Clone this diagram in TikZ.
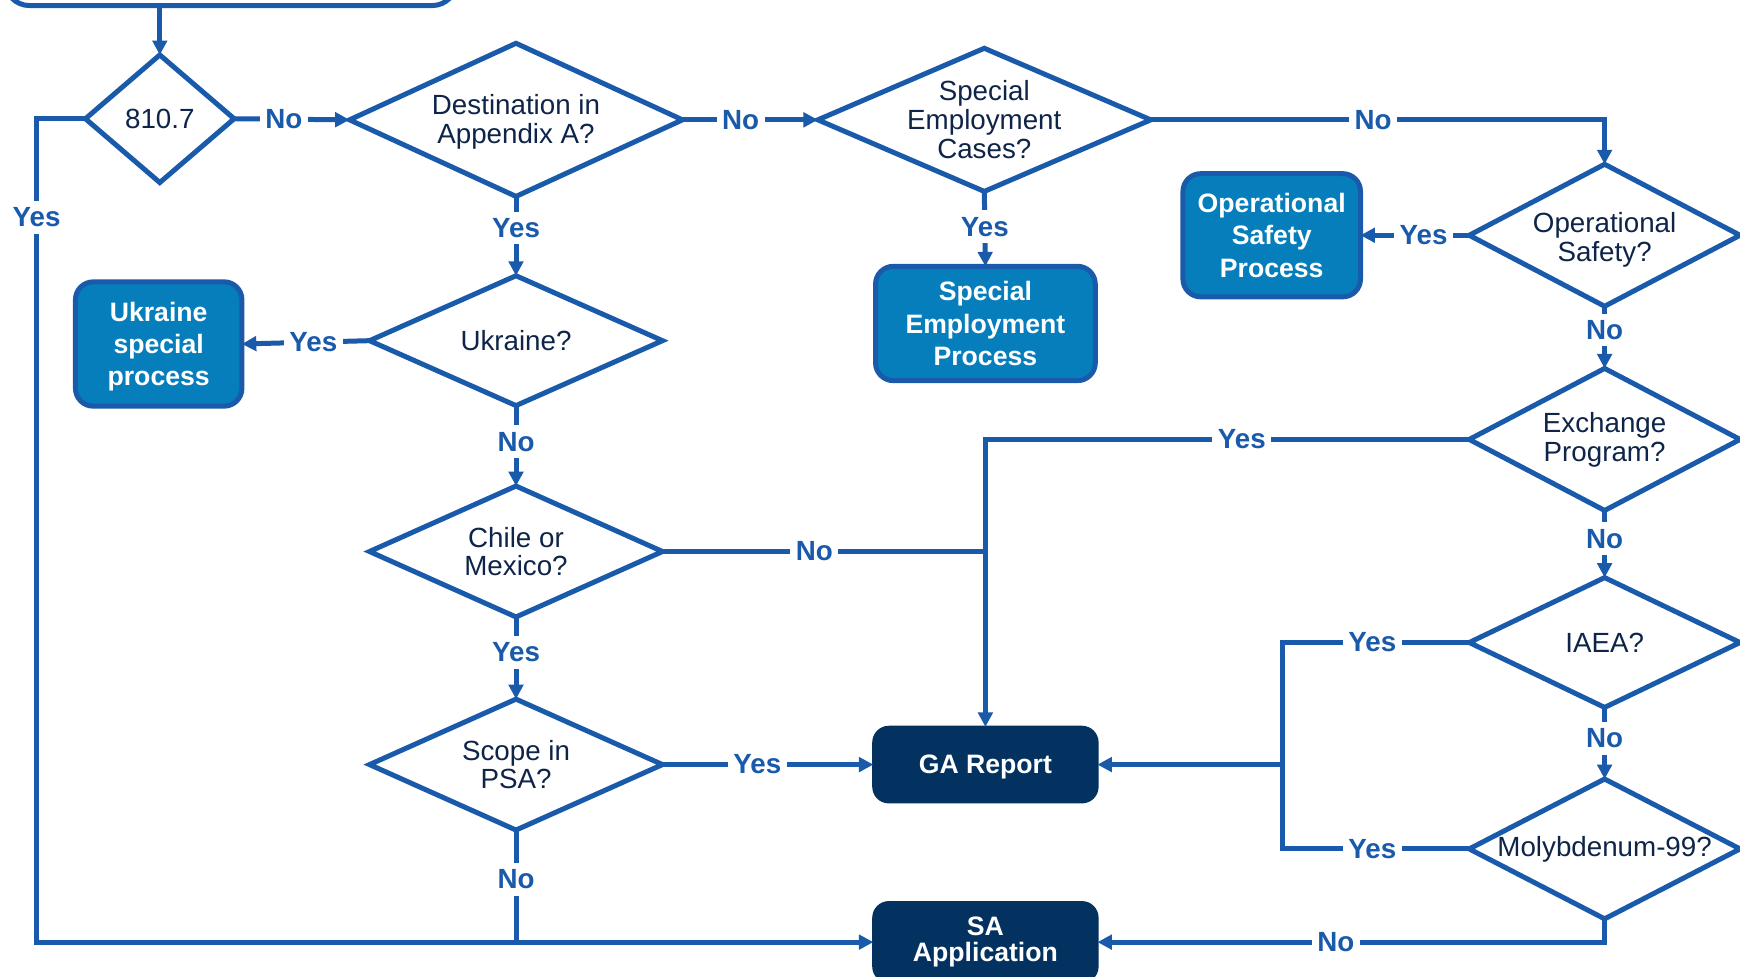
\documentclass[tikz,border=0pt]{standalone}
\usepackage{fontspec}
\setmainfont{Liberation Sans}
\usetikzlibrary{shapes.geometric,arrows.meta}
\definecolor{lnblue}{RGB}{26,90,170}
\definecolor{boxblue}{RGB}{6,126,188}
\definecolor{navy}{RGB}{3,49,96}
\definecolor{txtnavy}{RGB}{14,36,72}
\begin{document}
\begin{tikzpicture}[x=1pt,y=-1pt,
  every node/.style={outer sep=0pt},
  dia/.style={draw=lnblue, line width=4.5pt, shape=diamond, inner sep=0pt, fill=white, line join=miter},
  dtext/.style={text=txtnavy, align=center, font=\fontsize{25}{26}\selectfont, inner sep=0pt},
  pbox/.style={draw=lnblue, line width=4.5pt, fill=boxblue, rounded corners=16pt, text=white, align=center, font=\bfseries\fontsize{24}{29}\selectfont, inner sep=0pt, text depth=0pt},
  nbox/.style={draw=navy, line width=2pt, fill=navy, rounded corners=14pt, text=white, align=center, font=\bfseries\fontsize{24}{24}\selectfont, inner sep=0pt},
  lbl/.style={fill=white, text=lnblue, font=\bfseries\fontsize{25}{26}\selectfont, inner xsep=5pt, inner ysep=6pt},
  conn/.style={draw=lnblue, line width=4.5pt},
  arr/.style={conn, -{Triangle[length=13pt,width=13pt]}}
]
\useasboundingbox (0,0) rectangle (1568,880);
\fill[white] (0,0) rectangle (1568,880);

% top box (cut off)
\node[draw=lnblue, line width=4.5pt, fill=white, rounded corners=22pt, minimum width=407pt, minimum height=100pt] (top) at (208,-45) {};

% diamonds
\node[dia, minimum width=134pt, minimum height=115pt] (d810) at (144,107) {};
\node[dtext] (t810) at (d810) {810.7};
\node[dia, minimum width=300pt, minimum height=138pt] (dDest) at (465,108) {};
\node[dtext] (tDest) at ([yshift=-2pt]dDest.center) {Destination in\\Appendix A?};
\node[dia, minimum width=300pt, minimum height=129pt] (dSEC) at (887,108) {};
\node[dtext] (tSEC) at (dSEC) {Special\\Employment\\Cases?};
\node[dia, minimum width=244pt, minimum height=128pt] (dOS) at (1446,212) {};
\node[dtext] (tOS) at ([yshift=-4pt]dOS.center) {Operational\\Safety?};
\node[dia, minimum width=244pt, minimum height=128pt] (dEP) at (1446,396) {};
\node[dtext] (tEP) at (dEP) {Exchange\\Program?};
\node[dia, minimum width=244pt, minimum height=117pt] (dIAEA) at (1446,579) {};
\node[dtext] (tIAEA) at (dIAEA) {IAEA?};
\node[dia, minimum width=244pt, minimum height=126pt] (dMo) at (1446,765) {};
\node[dtext] (tMo) at (dMo) {Molybdenum-99?};
\node[dia, minimum width=264pt, minimum height=117pt] (dUkr) at (465,307) {};
\node[dtext] (tUkr) at (dUkr) {Ukraine?};
\node[dia, minimum width=264pt, minimum height=118pt] (dChile) at (465,497) {};
\node[dtext] (tChile) at (dChile) {Chile or\\Mexico?};
\node[dia, minimum width=264pt, minimum height=118pt] (dScope) at (465,689) {};
\node[dtext] (tScope) at (dScope) {Scope in\\PSA?};

% process boxes
\node[pbox, minimum width=150pt, minimum height=112pt] (usp) at (143,310) {Ukraine\\special\\process};
\node[pbox, minimum width=198pt, minimum height=103pt] (sep) at (888,291.5) {Special\\Employment\\Process};
\node[pbox, minimum width=160pt, minimum height=111pt] (osp) at (1146,212) {Operational\\Safety\\Process};
\node[nbox, minimum width=202pt, minimum height=68pt, text depth=0pt] (ga) at (888,689) {GA Report};
\node[nbox, minimum width=202pt, minimum height=72pt] (sa) at (888,849) {SA\\Application};

\coordinate (lx) at (33,0);
\coordinate (jn) at (1156,689);

% connectors
\draw[arr] (d810.north |- top.south) -- (d810.north);
\draw[arr] (d810.east) -- node[lbl,pos=0.43]{No} (dDest.west);
\draw[arr] (dDest.east) -- node[lbl,pos=0.43]{No} (dSEC.west);
\draw[arr] (dSEC.east) -- node[lbl,pos=0.49]{No} (dSEC.east -| dOS.north) -- (dOS.north);
\draw[arr] (dSEC.south) -- node[lbl,pos=0.47]{Yes} (sep.north);
\draw[arr] (dOS.west) -- node[lbl,pos=0.42]{Yes} (osp.east);
\draw[arr] (dOS.south) -- node[lbl,pos=0.38]{No} (dEP.north);
\draw[arr] (dEP.west) -- node[lbl,pos=0.47]{Yes} (dEP.west -| ga.north) -- (ga.north);
\draw[arr] (dEP.south) -- node[lbl,pos=0.42]{No} (dIAEA.north);
\draw[arr] (dIAEA.south) -- node[lbl,pos=0.43]{No} (dMo.north);
\draw[conn] (dIAEA.west) -- node[lbl,pos=0.52]{Yes} (dIAEA.west -| jn) -- (jn |- dMo.west) -- node[lbl,pos=0.48]{Yes} (dMo.west);
\draw[arr] (jn) -- (ga.east);
\draw[arr] (dMo.south) -- (dMo.south |- sa.east) -- node[lbl,pos=0.53]{No} (sa.east);
\draw[arr] (dDest.south) -- node[lbl,pos=0.4]{Yes} (dUkr.north);
\draw[arr] (dUkr.west) -- node[lbl,pos=0.44]{Yes} (usp.east);
\draw[arr] (dUkr.south) -- node[lbl,pos=0.45]{No} (dChile.north);
\draw[conn] (dChile.east) -- node[lbl,pos=0.47]{No} (dChile.east -| ga.north);
\draw[arr] (dChile.south) -- node[lbl,pos=0.43]{Yes} (dScope.north);
\draw[arr] (dScope.east) -- node[lbl,pos=0.45]{Yes} (ga.west);
\draw[conn] (dScope.south) -- node[lbl,pos=0.44]{No} (dScope.south |- sa.west);
\draw[arr] (d810.west) -- (d810.west -| lx) -- node[lbl,pos=0.12]{Yes} (lx |- sa.west) -- (sa.west);
\end{tikzpicture}
\end{document}
